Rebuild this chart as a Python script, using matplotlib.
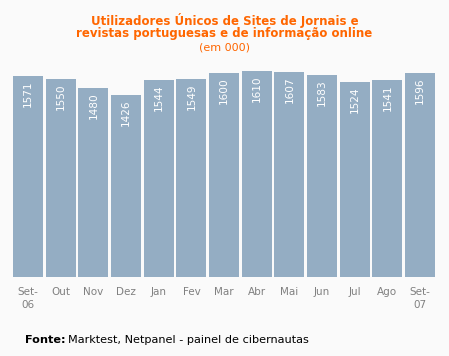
import numpy as np
import matplotlib.pyplot as plt

meses = ['Set-\n06', 'Out', 'Nov', 'Dez', 'Jan', 'Fev', 'Mar', 'Abr',
         'Mai', 'Jun', 'Jul', 'Ago', 'Set-\n07']
valores = [1571, 1550, 1480, 1426, 1544, 1549, 1600, 1610,
           1607, 1583, 1524, 1541, 1596]

bg = '#fafafa'
bar_color = '#94adc3'
orange = '#ff6600'

fig = plt.figure(figsize=(4.49, 3.56), dpi=100, facecolor=bg)
ax = fig.add_axes([11.7 / 449, 79 / 356, 424.7 / 449, 217 / 356])
ax.set_facecolor(bg)

x = np.arange(len(valores))
bars = ax.bar(x, valores, width=0.92, color=bar_color)
for xi, v in zip(x, valores):
    ax.annotate(str(v), (xi, v), xytext=(0, -3), textcoords='offset points',
                rotation=90, ha='center', va='top', color='white',
                fontsize=7.6)

ax.set_xlim(-0.5, len(valores) - 0.5)
ax.set_ylim(0, 1700)
ax.set_xticks(x)
ax.set_xticklabels(meses, fontsize=7.5, color='#808080', linespacing=1.35)
ax.tick_params(axis='x', length=0, pad=7)
ax.set_yticks([])
for s in ax.spines.values():
    s.set_visible(False)

fig.text(0.5, 1 - 20 / 356, 'Utilizadores Únicos de Sites de Jornais e',
         ha='center', va='center', color=orange, fontsize=8.5, fontweight='bold')
fig.text(0.5, 1 - 34 / 356, 'revistas portuguesas e de informação online',
         ha='center', va='center', color=orange, fontsize=8.5, fontweight='bold')
fig.text(0.5, 1 - 48 / 356, '(em 000)', ha='center', va='center',
         color=orange, fontsize=8)

t = fig.text(25 / 449, 1 - 340 / 356, 'Fonte:', ha='left', va='center',
             fontsize=8.1, fontweight='bold', color='black')
fig.canvas.draw()
bb = t.get_window_extent()
fig.text(bb.x1 / 449 + 3 / 449, 1 - 340 / 356,
         'Marktest, Netpanel - painel de cibernautas',
         ha='left', va='center', fontsize=8.1, color='black')

plt.savefig('out.png', dpi=100, facecolor=bg)
